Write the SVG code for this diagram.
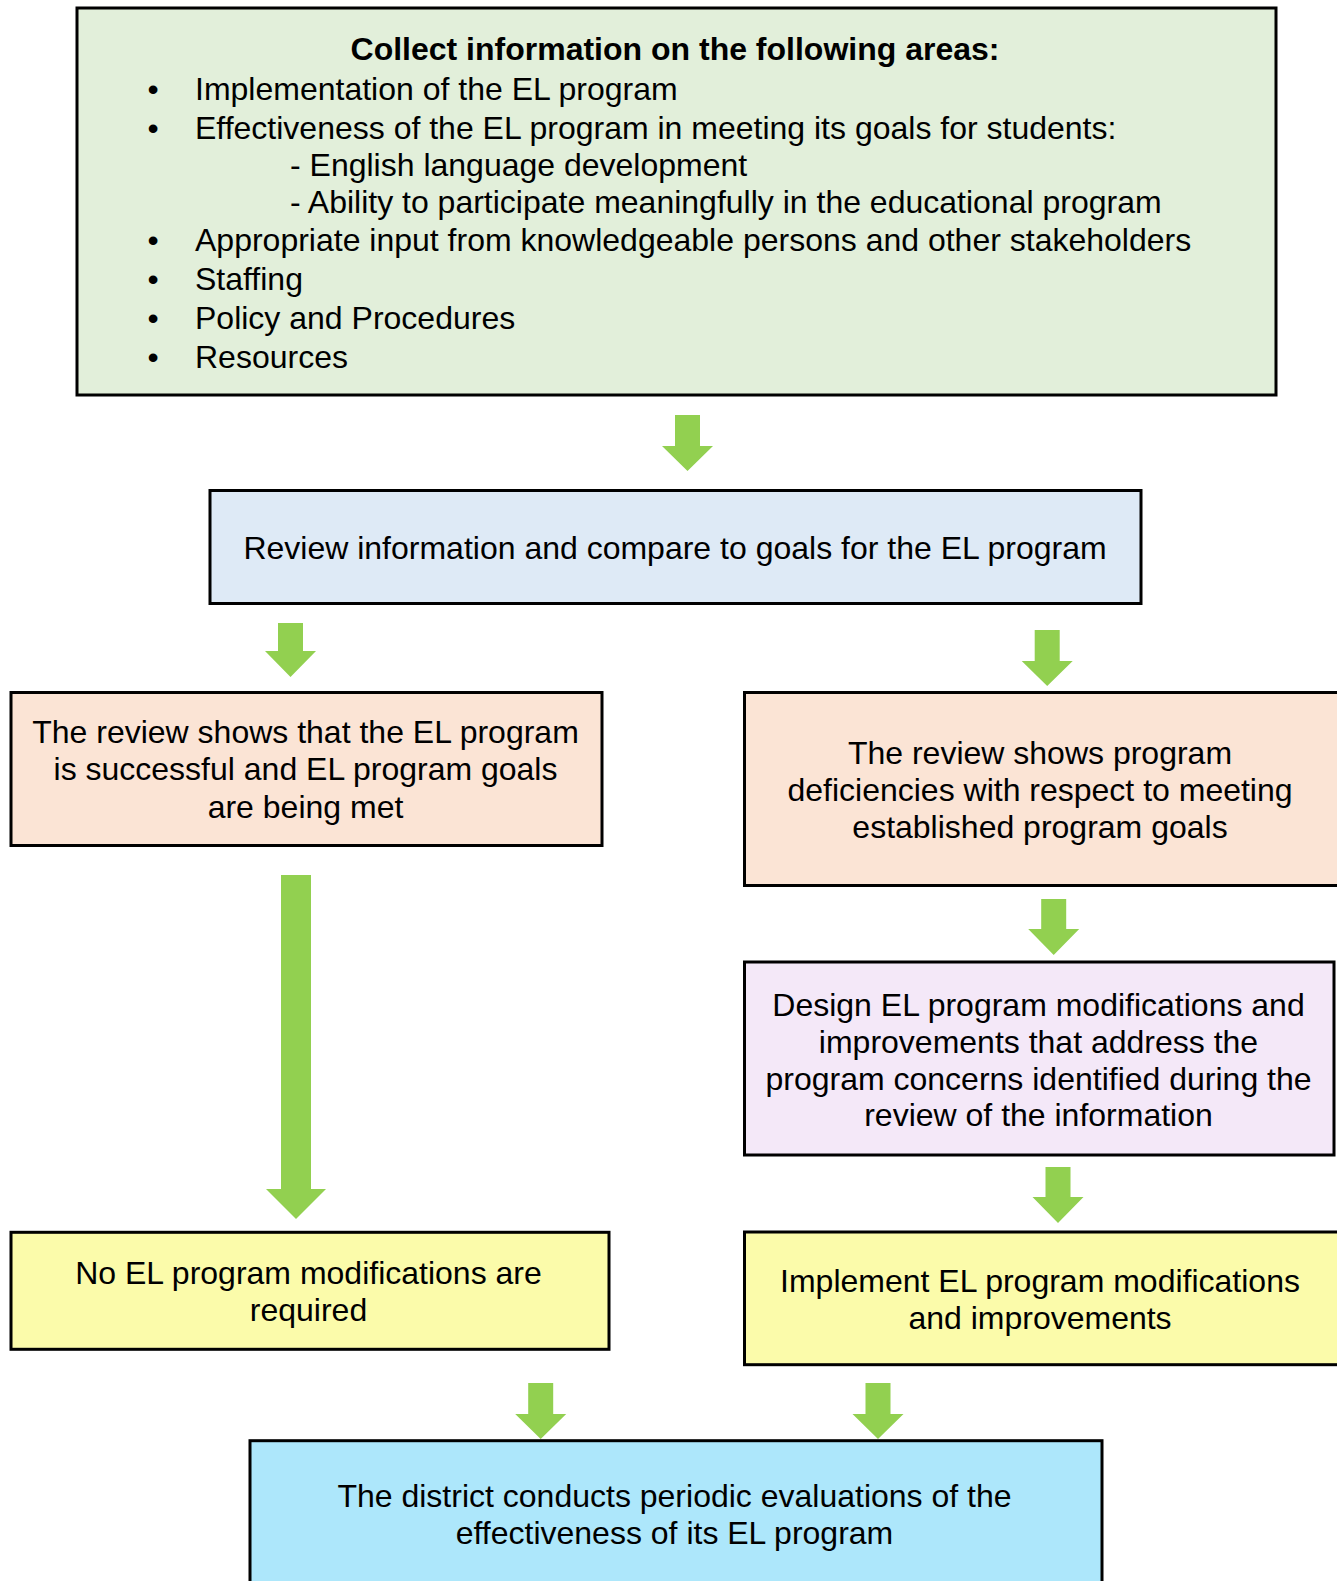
<svg xmlns="http://www.w3.org/2000/svg" width="1337" height="1581" viewBox="0 0 1337 1581">
<style>
.box{stroke:#000;stroke-width:3}
.t{font-family:"Liberation Sans",Arial,sans-serif;font-size:32px;fill:#000}
.c{text-anchor:middle}
.b{font-weight:bold}
.arr{fill:#92D050}
</style>
<rect width="1337" height="1581" fill="#fff"/>
<g id="collect">
<rect class="box" x="77" y="8" width="1199" height="387" fill="#E2EFDA"/>
<text class="t c b" x="675" y="60">Collect information on the following areas:</text>
<text class="t c" x="153" y="100">•</text>
<text class="t" x="195" y="100">Implementation of the EL program</text>
<text class="t c" x="153" y="138.5">•</text>
<text class="t" x="195" y="138.5">Effectiveness of the EL program in meeting its goals for students:</text>
<text class="t" x="290" y="176">- English language development</text>
<text class="t" x="290" y="213">- Ability to participate meaningfully in the educational program</text>
<text class="t c" x="153" y="251">•</text>
<text class="t" x="195" y="251">Appropriate input from knowledgeable persons and other stakeholders</text>
<text class="t c" x="153" y="290">•</text>
<text class="t" x="195" y="290">Staffing</text>
<text class="t c" x="153" y="329">•</text>
<text class="t" x="195" y="329">Policy and Procedures</text>
<text class="t c" x="153" y="368">•</text>
<text class="t" x="195" y="368">Resources</text>
</g>
<g id="review">
<rect class="box" x="210" y="490.5" width="931" height="113" fill="#DEEAF6"/>
<text class="t c" x="675" y="558.5">Review information and compare to goals for the EL program</text>
</g>
<g id="success">
<rect class="box" x="11" y="692.5" width="591" height="153" fill="#FBE4D5"/>
<text class="t c" x="305.5" y="743">The review shows that the EL program</text>
<text class="t c" x="305.5" y="780">is successful and EL program goals</text>
<text class="t c" x="305.5" y="817.5">are being met</text>
</g>
<g id="deficiency">
<rect class="box" x="744.5" y="692.5" width="610" height="193" fill="#FBE4D5"/>
<text class="t c" x="1040" y="763.5">The review shows program</text>
<text class="t c" x="1040" y="800.5">deficiencies with respect to meeting</text>
<text class="t c" x="1040" y="838">established program goals</text>
</g>
<g id="design">
<rect class="box" x="744.5" y="962" width="589.5" height="193" fill="#F4E8F8"/>
<text class="t c" x="1038.5" y="1016">Design EL program modifications and</text>
<text class="t c" x="1038.5" y="1052.5">improvements that address the</text>
<text class="t c" x="1038.5" y="1089.5">program concerns identified during the</text>
<text class="t c" x="1038.5" y="1126">review of the information</text>
</g>
<g id="nomod">
<rect class="box" x="11" y="1232.3" width="598" height="117" fill="#FBFBAA"/>
<text class="t c" x="308.5" y="1283.5">No EL program modifications are</text>
<text class="t c" x="308.5" y="1321">required</text>
</g>
<g id="implement">
<rect class="box" x="744.5" y="1232" width="610" height="132.7" fill="#FBFBAA"/>
<text class="t c" x="1040" y="1291.7">Implement EL program modifications</text>
<text class="t c" x="1040" y="1329.3">and improvements</text>
</g>
<g id="periodic">
<rect class="box" x="250" y="1440.7" width="852" height="160" fill="#ADE7FB"/>
<text class="t c" x="674.5" y="1506.7">The district conducts periodic evaluations of the</text>
<text class="t c" x="674.5" y="1543.7">effectiveness of its EL program</text>
</g>
<g id="connectors">
<polygon class="arr" points="675,415 700,415 700,446 713,446 687.5,471 662,446 675,446"/>
<polygon class="arr" points="278,623 303,623 303,651 316,651 290.5,677 265,651 278,651"/>
<polygon class="arr" points="1034.7,630 1059.7,630 1059.7,661 1072.7,661 1047.2,686 1021.7,661 1034.7,661"/>
<polygon class="arr" points="1041.2,899 1066.2,899 1066.2,929 1079.2,929 1053.7,955 1028.2,929 1041.2,929"/>
<polygon class="arr" points="1045.5,1167 1070.5,1167 1070.5,1197 1083.5,1197 1058,1223 1032.5,1197 1045.5,1197"/>
<polygon class="arr" points="281,875 311,875 311,1189 326,1189 296,1219 266,1189 281,1189"/>
<polygon class="arr" points="528.2,1383 553.2,1383 553.2,1414 566.2,1414 540.7,1439 515.2,1414 528.2,1414"/>
<polygon class="arr" points="865.5,1383 890.5,1383 890.5,1414 903.5,1414 878,1439 852.5,1414 865.5,1414"/>
</g>
</svg>
